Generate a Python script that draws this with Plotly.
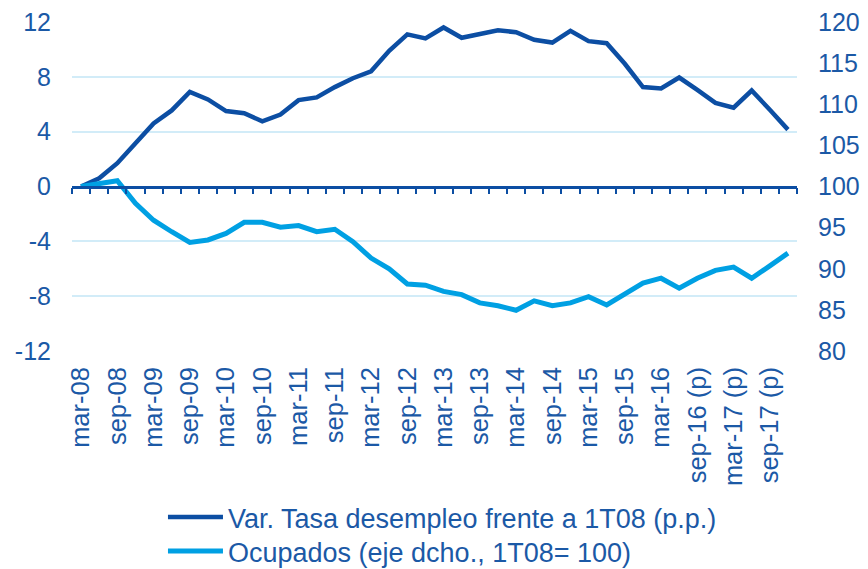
import plotly.graph_objects as go

quarters = []
for yr in range(8, 18):
    for m in ["mar", "jun", "sep", "dic"]:
        lbl = f"{m}-{yr:02d}"
        quarters.append(lbl)

tick_labels = ["mar-08", "sep-08", "mar-09", "sep-09", "mar-10", "sep-10", "mar-11",
               "sep-11", "mar-12", "sep-12", "mar-13", "sep-13", "mar-14", "sep-14",
               "mar-15", "sep-15", "mar-16", "sep-16 (p)", "mar-17 (p)", "sep-17 (p)"]

desempleo = [0.0, 0.6, 1.7, 3.1, 4.6, 5.55, 6.9, 6.35, 5.5, 5.35,
             4.75, 5.25, 6.3, 6.5, 7.25, 7.9, 8.4, 9.9, 11.1, 10.8,
             11.6, 10.85, 11.1, 11.4, 11.25, 10.7, 10.5, 11.35, 10.6, 10.45,
             8.95, 7.25, 7.15, 7.95, 7.05, 6.1, 5.75, 7.0, 5.6, 4.15]

ocupados = [100.0, 100.4, 100.7, 97.95, 95.9, 94.5, 93.2, 93.5, 94.3, 95.65,
            95.65, 95.05, 95.25, 94.5, 94.8, 93.3, 91.3, 90.0, 88.15, 88.0,
            87.25, 86.85, 85.85, 85.5, 84.95, 86.1, 85.5, 85.85, 86.6, 85.6,
            86.85, 88.25, 88.85, 87.65, 88.85, 89.8, 90.2, 88.85, 90.35, 91.9]

name1 = "Var. Tasa desempleo frente a 1T08 (p.p.)"
name2 = "Ocupados (eje dcho., 1T08= 100)"

DARK = "#0c4ea3"
LIGHT = "#00a0e3"
TEXT = "#1b59a6"
GRID = "#d2ecf8"
FONT = "Liberation Sans, Arial, sans-serif"

idx = list(range(len(quarters)))

fig = go.Figure()
fig.add_trace(go.Scatter(x=idx, y=desempleo, name=name1, mode="lines",
                         line=dict(color=DARK, width=4.5),
                         xaxis="x", yaxis="y", legend="legend"))
fig.add_trace(go.Scatter(x=idx, y=ocupados, name=name2, mode="lines",
                         line=dict(color=LIGHT, width=5),
                         xaxis="x2", yaxis="y2", legend="legend2"))

n = len(quarters)
leg_common = dict(xref="container", yref="container", x=0.1802,
                  xanchor="left", yanchor="top", orientation="v",
                  font=dict(size=27, color=TEXT), itemwidth=55,
                  bgcolor="rgba(0,0,0,0)")
fig.update_layout(
    width=860, height=561,
    margin=dict(l=64, r=71, t=14, b=218, autoexpand=False),
    paper_bgcolor="white", plot_bgcolor="white",
    font=dict(family=FONT, size=25, color=TEXT),
    showlegend=True,
    legend=dict(y=0.1355, **leg_common),
    legend2=dict(y=0.0749, **leg_common),
    xaxis=dict(range=[-0.5, n - 0.5], tickmode="array",
               tickvals=idx[::2], ticktext=tick_labels, tickangle=-90,
               showgrid=False, zeroline=False, showline=False, ticks="",
               ticklabelstandoff=10, ticklabeloverflow="allow",
               tickfont=dict(size=25.5, color=TEXT)),
    xaxis2=dict(range=[-0.5, n - 0.5], overlaying="x", anchor="free",
                position=0.5, side="bottom", tickmode="array",
                tickvals=[i - 0.5 for i in range(n + 1)],
                showticklabels=False, ticks="outside", ticklen=6,
                tickwidth=2, tickcolor=DARK, showline=True, linecolor=DARK,
                linewidth=2.5, showgrid=False, zeroline=False),
    yaxis=dict(range=[-12, 12], tickmode="array",
               tickvals=[-12, -8, -4, 0, 4, 8, 12],
               ticktext=["-12", "-8", "-4", "0", "4", "8", "12"],
               showgrid=True, gridcolor=GRID, gridwidth=1.5,
               zeroline=False, showline=False, ticks="",
               ticklabelstandoff=20, ticklabeloverflow="allow",
               tickfont=dict(size=25, color=TEXT)),
    yaxis2=dict(range=[80, 120], overlaying="y", side="right", anchor="x",
                tickmode="array", tickvals=[80, 85, 90, 95, 100, 105, 110, 115, 120],
                showgrid=False, zeroline=False, showline=False, ticks="",
                ticklabelstandoff=20, ticklabeloverflow="allow",
                tickfont=dict(size=25, color=TEXT)),
)

fig.write_html("out.html")
